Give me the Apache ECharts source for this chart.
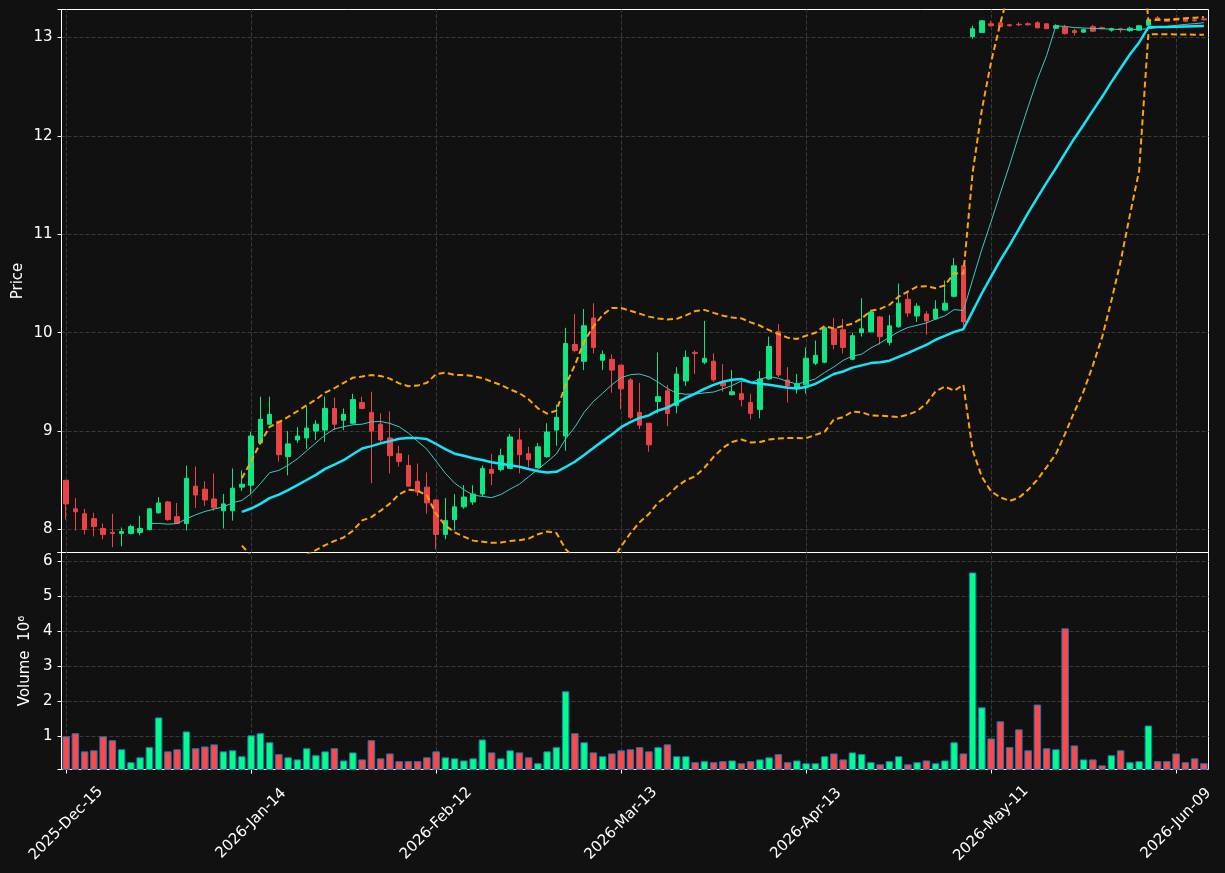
<!DOCTYPE html>
<html><head><meta charset="utf-8">
<script src="https://cdn.jsdelivr.net/npm/echarts@6/dist/echarts.min.js"></script>
<style>html,body{margin:0;padding:0;background:#111111;}#c{width:1225px;height:873px;}</style>
</head><body><div id="c"></div><script>
// ---- data ----
const startDate = '2025-12-15';
const holidays = ['2025-12-25','2026-01-01','2026-01-19','2026-02-16','2026-04-03','2026-05-25'];

const openPx = [8.50,8.21,8.16,8.11,8.01,7.97,7.96,7.96,7.97,8.00,
  8.17,8.28,8.13,8.06,8.44,8.41,8.31,8.19,8.19,8.43,
  8.45,8.88,9.07,9.10,8.74,8.91,8.93,9.00,9.01,9.23,
  9.11,9.08,9.29,9.19,9.07,8.93,8.77,8.65,8.49,8.43,
  8.30,7.95,8.10,8.23,8.28,8.36,8.61,8.61,8.62,8.91,
  8.77,8.63,8.74,9.01,8.95,9.88,9.71,10.15,9.72,9.73,
  9.67,9.52,9.19,9.08,9.30,9.41,9.26,9.51,9.80,9.70,
  9.71,9.49,9.37,9.38,9.29,9.22,9.53,10.01,9.52,9.44,
  9.47,9.69,9.70,10.04,10.03,9.73,10.00,10.01,10.16,9.90,
  10.06,10.34,10.17,10.19,10.14,10.23,10.37,10.68,13.01,13.05,
  13.14,13.15,13.13,13.135,13.14,13.15,13.14,13.095,13.105,13.07,
  13.055,13.11,13.10,13.075,13.09,13.07,13.075,13.125,13.20,13.185,
  13.19,13.195,13.18,13.19];
const closePx = [8.26,8.18,8.00,8.03,7.95,7.96,7.98,8.03,8.01,8.21,
  8.27,8.10,8.06,8.52,8.35,8.30,8.22,8.26,8.42,8.46,
  8.95,9.12,9.17,8.76,8.87,8.95,9.03,9.07,9.23,9.07,
  9.17,9.32,9.23,9.00,8.91,8.75,8.69,8.44,8.38,8.27,
  7.95,8.09,8.23,8.33,8.36,8.62,8.57,8.75,8.94,8.76,
  8.71,8.84,8.99,9.14,9.89,9.82,10.07,9.85,9.78,9.62,
  9.43,9.14,9.06,8.86,9.35,9.18,9.58,9.75,9.79,9.74,
  9.52,9.46,9.40,9.32,9.18,9.53,9.86,9.57,9.46,9.48,
  9.74,9.77,10.05,9.88,9.85,9.97,10.04,10.21,9.96,10.07,
  10.30,10.20,10.27,10.12,10.24,10.30,10.68,10.11,13.09,13.17,
  13.12,13.11,13.12,13.13,13.13,13.10,13.09,13.12,13.04,13.05,
  13.08,13.065,13.09,13.09,13.08,13.095,13.12,13.18,13.175,13.165,
  13.175,13.165,13.17,13.18];
const lowPx = [8.10,7.99,7.95,7.93,7.90,7.82,7.83,7.95,7.94,7.99,
  8.16,8.09,8.06,7.99,8.22,8.24,8.19,8.01,8.09,8.39,
  8.36,8.87,9.06,8.69,8.55,8.88,8.82,8.91,8.89,9.01,
  9.01,9.07,9.22,8.47,8.89,8.57,8.64,8.44,8.34,8.16,
  7.80,7.90,7.99,8.21,8.25,8.34,8.45,8.59,8.62,8.57,
  8.63,8.62,8.73,8.85,8.80,9.80,9.62,9.79,9.62,9.39,
  9.22,9.12,9.02,8.79,9.18,9.05,9.18,9.46,9.58,9.68,
  9.50,9.40,9.36,9.25,9.12,9.13,9.52,9.55,9.29,9.38,
  9.38,9.67,9.69,9.83,9.79,9.72,9.96,10.00,9.88,9.87,
  10.05,10.16,10.11,9.98,10.13,10.22,10.36,10.05,12.99,13.05,
  13.11,13.11,13.11,13.115,13.12,13.09,13.09,13.09,13.03,13.02,
  13.05,13.055,13.085,13.06,13.05,13.06,13.07,13.12,13.17,13.16,
  13.17,13.16,13.16,13.175];
const highPx = [8.50,8.32,8.21,8.17,8.06,8.16,8.02,8.05,8.14,8.22,
  8.33,8.29,8.27,8.65,8.64,8.49,8.57,8.36,8.62,8.60,
  8.99,9.35,9.35,9.10,9.00,9.04,9.25,9.11,9.35,9.34,
  9.23,9.38,9.35,9.40,9.18,9.20,8.85,8.76,8.67,8.58,
  8.31,8.32,8.36,8.45,8.45,8.65,8.77,8.82,8.97,9.03,
  8.84,8.88,9.08,9.27,10.05,10.19,10.24,10.30,9.82,9.78,
  9.67,9.54,9.49,9.08,9.80,9.47,9.65,9.82,9.82,10.12,
  9.79,9.68,9.62,9.51,9.38,9.61,9.96,10.09,9.65,9.58,
  9.85,9.92,10.06,10.15,10.14,10.00,10.35,10.23,10.17,10.18,
  10.50,10.43,10.30,10.22,10.33,10.53,10.76,10.70,13.12,13.18,
  13.17,13.15,13.14,13.155,13.155,13.165,13.14,13.135,13.13,13.09,
  13.095,13.13,13.11,13.10,13.10,13.11,13.13,13.19,13.22,13.19,
  13.20,13.20,13.20,13.195];
// volume, millions of shares
const volumeM = [1.00,1.09,0.57,0.60,1.00,0.89,0.63,0.26,0.40,0.69,
  1.54,0.57,0.63,1.14,0.66,0.71,0.77,0.57,0.60,0.43,
  1.03,1.09,0.83,0.49,0.40,0.34,0.66,0.46,0.57,0.66,
  0.31,0.54,0.34,0.89,0.37,0.51,0.29,0.29,0.29,0.40,
  0.57,0.40,0.37,0.31,0.37,0.91,0.54,0.37,0.60,0.54,
  0.40,0.23,0.57,0.69,2.29,1.09,0.83,0.54,0.43,0.51,
  0.60,0.63,0.69,0.57,0.69,0.77,0.43,0.43,0.26,0.29,
  0.26,0.29,0.31,0.23,0.29,0.34,0.40,0.49,0.26,0.31,
  0.23,0.23,0.43,0.51,0.34,0.54,0.49,0.26,0.20,0.29,
  0.43,0.20,0.26,0.31,0.23,0.31,0.83,0.51,5.69,1.83,
  0.94,1.43,0.69,1.20,0.60,1.91,0.66,0.63,4.09,0.74,
  0.34,0.34,0.17,0.46,0.60,0.26,0.29,1.31,0.29,0.29,
  0.51,0.26,0.37,0.23];
const priceAxisName = 'Price';
const volumeAxisName = 'Volume  10\u2076';
const maShort = 10, maLong = 20, bandK = 2;
const priceMin = 7.766, priceMax = 13.285;
const labelEvery = 20;

// ---- categories: trading days ----
const monthNames = ['Jan','Feb','Mar','Apr','May','Jun','Jul','Aug','Sep','Oct','Nov','Dec'];
const categories = [];
(function(){
  let d = new Date(startDate + 'T00:00:00Z');
  while (categories.length < openPx.length) {
    const iso = d.toISOString().slice(0,10);
    const wd = d.getUTCDay();
    if (wd !== 0 && wd !== 6 && holidays.indexOf(iso) < 0) {
      categories.push(d.getUTCFullYear() + '-' + monthNames[d.getUTCMonth()] + '-' + String(d.getUTCDate()).padStart(2,'0'));
    }
    d = new Date(d.getTime() + 86400000);
  }
})();

function sma(arr, n){ return arr.map((v,i)=>{ if(i<n-1) return null; let s=0; for(let k=i-n+1;k<=i;k++) s+=arr[k]; return s/n; }); }
function bands(arr, n, k, sign){ return arr.map((v,i)=>{ if(i<n-1) return null; let s=0; for(let j=i-n+1;j<=i;j++) s+=arr[j]; const m=s/n; let q=0; for(let j=i-n+1;j<=i;j++) q+=(arr[j]-m)*(arr[j]-m); return m + sign*k*Math.sqrt(q/n); }); }

const ma10 = sma(closePx, maShort);
const ma20 = sma(closePx, maLong);
const bbUp = bands(closePx, maLong, bandK, 1);
const bbLo = bands(closePx, maLong, bandK, -1);

const UPC = '#0ee683', DNC = '#ea4346', VUP = '#00ff88', VDN = '#ff4848';
const candleData = openPx.map((o,i)=>[o, closePx[i], lowPx[i], highPx[i]]);
const volData = volumeM.map((v,i)=>({value:v, itemStyle:{color: closePx[i] >= openPx[i] ? VUP : VDN}}));
const tickCats = categories.filter((c,i)=>i % labelEvery === 0);

const FONT = 'DejaVu Sans';
const FS = 15;
const gridLine = {color:'#3a3a3a', type:[4,2], width:1};
const intOnly = v => (Math.abs(v - Math.round(v)) < 1e-6) ? String(Math.round(v)) : '';

const chart = echarts.init(document.getElementById('c'), null, {renderer:'canvas'});
chart.setOption({
  backgroundColor:'#111111',
  animation:false,
  textStyle:{fontFamily:FONT},
  graphic:[
    {type:'text', x:18.5, y:281, rotation:Math.PI/2, silent:true,
     style:{text:priceAxisName, fill:'#ffffff', font:FS + 'px "' + FONT + '"', align:'center', verticalAlign:'middle'}},
    {type:'text', x:25.5, y:661, rotation:Math.PI/2, silent:true,
     style:{text:volumeAxisName, fill:'#ffffff', font:FS + 'px "' + FONT + '"', align:'center', verticalAlign:'middle'}}
  ],
  grid:[
    {left:61.5, right:16.5, top:9.5, height:543, show:true, borderColor:'#ffffff', borderWidth:1, backgroundColor:'transparent'},
    {left:61.5, right:16.5, top:552.5, height:217, show:true, borderColor:'#ffffff', borderWidth:1, backgroundColor:'transparent'}
  ],
  xAxis:[
    {type:'category', gridIndex:0, data:categories, boundaryGap:true,
     axisLine:{show:false}, axisTick:{show:false}, axisLabel:{show:false}, splitLine:{show:false}},
    {type:'category', gridIndex:1, data:categories, boundaryGap:true,
     axisLine:{show:false},
     axisTick:{show:true, alignWithLabel:true, interval:labelEvery-1, length:4, lineStyle:{color:'#ffffff'}},
     axisLabel:{show:true, interval:labelEvery-1, rotate:45, align:'center', verticalAlign:'middle', margin:54,
       color:'#ffffff', fontSize:FS, fontFamily:FONT},
     splitLine:{show:false}}
  ],
  yAxis:[
    {type:'value', gridIndex:0, min:priceMin, max:priceMax, minInterval:1, maxInterval:1,
     axisLine:{show:false}, axisTick:{show:true, length:4, lineStyle:{color:'#ffffff'}},
     axisLabel:{color:'#ffffff', fontSize:FS, fontFamily:FONT, margin:9, formatter:intOnly},
     splitLine:{show:true, showMinLine:false, showMaxLine:false, lineStyle:gridLine}},
    {type:'value', gridIndex:1,
     min: function(e){ return 0.3 * Math.min.apply(null, volumeM); },
     max: function(e){ return 1.1 * Math.max.apply(null, volumeM); },
     minInterval:1, maxInterval:1,
     axisLine:{show:false}, axisTick:{show:true, length:4, lineStyle:{color:'#ffffff'}},
     axisLabel:{color:'#ffffff', fontSize:FS, fontFamily:FONT, margin:9, formatter:intOnly},
     splitLine:{show:true, showMinLine:false, showMaxLine:false, lineStyle:gridLine}}
  ],
  series:[
    {type:'line', xAxisIndex:0, yAxisIndex:0, data:[], z:1, silent:true,
     markLine:{silent:true, z:1, symbol:'none', animation:false, label:{show:false}, lineStyle:gridLine,
       data: tickCats.map(c=>({xAxis:c}))}},
    {type:'line', xAxisIndex:1, yAxisIndex:1, data:[], z:1, silent:true,
     markLine:{silent:true, z:1, symbol:'none', animation:false, label:{show:false}, lineStyle:gridLine,
       data: tickCats.map(c=>({xAxis:c}))}},
    {type:'candlestick', xAxisIndex:0, yAxisIndex:0, data:candleData, barWidth:5, z:3,
     itemStyle:{color:UPC, color0:DNC, borderColor:UPC, borderColor0:DNC, borderWidth:1}},
    {type:'line', xAxisIndex:0, yAxisIndex:0, data:ma10, showSymbol:false, z:4, connectNulls:false,
     lineStyle:{color:'#3fc9c4', width:1}},
    {type:'line', xAxisIndex:0, yAxisIndex:0, data:ma20, showSymbol:false, z:4,
     lineStyle:{color:'#12e6f8', width:2.5}},
    {type:'line', xAxisIndex:0, yAxisIndex:0, data:bbUp, showSymbol:false, z:4,
     lineStyle:{color:'#ffa500', width:2, type:[6,3.5]}},
    {type:'line', xAxisIndex:0, yAxisIndex:0, data:bbLo, showSymbol:false, z:4,
     lineStyle:{color:'#ffa500', width:2, type:[6,3.5]}},
    {type:'bar', xAxisIndex:1, yAxisIndex:1, data:volData, barWidth:7.5, z:3,
     itemStyle:{borderColor:'#1f77b4', borderWidth:1}}
  ]
});
</script></body></html>
